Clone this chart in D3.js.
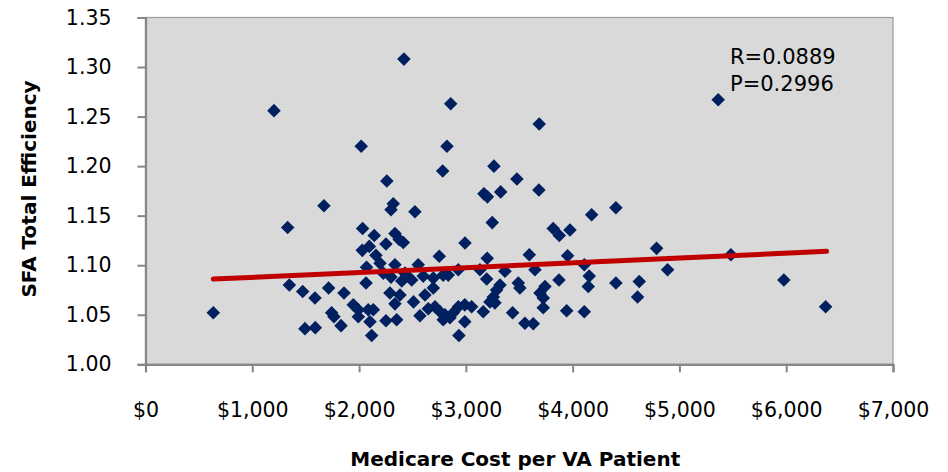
<!DOCTYPE html>
<html><head><meta charset="utf-8">
<script src="https://cdn.jsdelivr.net/npm/d3@7"></script>
<style>body{margin:0;background:#fff}svg{display:block}</style>
</head><body>
<svg id="chart" width="948" height="472"></svg>
<script>
const costs = [635,1203,1331,1347,1472,1493,1587,1590,1671,1715,1743,1765,1831,1859,1946,1993,1993,2020,2030,2033,2065,2070,2096,2102,2118,2133,2086,2142,2158,2196,2227,2252,2252,2260,2289,2299,2299,2320,2336,2336,2336,2352,2376,2383,2400,2414,2420,2430,2446,2510,2493,2523,2554,2570,2601,2617,2648,2695,2695,2711,2751,2758,2783,2788,2788,2804,2823,2835,2851,2858,2882,2935,2929,2930,2990,2990,2992,3054,3132,3163,3169,3195,3200,3202,3226,3247,3257,3263,3272,3288,3320,3326,3366,3438,3478,3491,3506,3553,3594,3631,3647,3684,3687,3694,3725,3725,3741,3818,3875,3872,3944,3953,3975,4109,4109,4146,4155,4178,4405,4405,4608,4624,4786,4889,5363,5482,5978,6369];
const efficiency = [1.052,1.256,1.138,1.080,1.0735,1.036,1.067,1.037,1.160,1.077,1.052,1.048,1.039,1.072,1.060,1.055,1.048,1.220,1.115,1.137,1.082,1.098,1.119,1.043,1.029,1.055,1.055,1.130,1.110,1.102,1.092,1.1215,1.044,1.185,1.072,1.156,1.088,1.162,1.132,1.1005,1.061,1.045,1.126,1.070,1.084,1.123,1.308,1.092,1.089,1.063,1.085,1.154,1.1005,1.049,1.089,1.070,1.056,1.087,1.077,1.058,1.109,1.053,1.195,1.090,1.045,1.050,1.220,1.090,1.047,1.263,1.052,1.029,1.0955,1.058,1.060,1.043,1.1225,1.058,1.0955,1.053,1.172,1.086,1.107,1.169,1.063,1.143,1.068,1.200,1.062,1.075,1.080,1.174,1.094,1.052,1.187,1.082,1.077,1.0415,1.1106,1.041,1.0955,1.176,1.2425,1.072,1.067,1.057,1.0785,1.137,1.130,1.085,1.054,1.1096,1.1356,1.1005,1.053,1.0785,1.089,1.151,1.158,1.082,1.068,1.0836,1.117,1.0955,1.267,1.1106,1.085,1.058];
const trendX = [635, 6378];
const trendY = [1.086, 1.114];
const xTicks = [0,1000,2000,3000,4000,5000,6000,7000];
const yTicks = [1.00,1.05,1.10,1.15,1.20,1.25,1.30,1.35];
const statLabels = ["R=0.0889","P=0.2996"];
const xTitle = "Medicare Cost per VA Patient";
const yTitle = "SFA Total Efficiency";

const svg = d3.select("#chart");
const L = 145.5, R = 893, T = 17.5, B = 364.3;
const x = d3.scaleLinear().domain([0,7000]).range([L,R]);
const y = d3.scaleLinear().domain([1.00,1.35]).range([B,T]);
const font = "'DejaVu Sans', sans-serif";

svg.append("rect").attr("x",L).attr("y",T).attr("width",R-L).attr("height",B-T)
  .attr("fill","#d9d9d9").attr("stroke","#9a9a9a").attr("stroke-width",1.2);

const xAxis = svg.append("g").attr("transform",`translate(0,${B})`)
  .call(d3.axisBottom(x).tickValues(xTicks).tickSize(8).tickPadding(30)
    .tickFormat(d => "$" + d3.format(",")(d)));
const yAxis = svg.append("g").attr("transform",`translate(${L},0)`)
  .call(d3.axisLeft(y).tickValues(yTicks).tickSize(8).tickPadding(26)
    .tickFormat(d3.format(".2f")));
[xAxis,yAxis].forEach(g => {
  g.select(".domain").attr("stroke","#868686").attr("stroke-width",2.2);
  g.selectAll(".tick line").attr("stroke","#868686").attr("stroke-width",2);
  g.selectAll("text").attr("fill","#000").style("font-family",font).style("font-size","20.5px");
});

svg.append("g").selectAll("path").data(costs).join("path")
  .attr("d", d3.symbol().type(d3.symbolSquare).size(92))
  .attr("transform",(d,i)=>`translate(${x(d)},${y(efficiency[i])}) rotate(45)`)
  .attr("fill","#002060");

svg.append("line")
  .attr("x1",x(trendX[0])).attr("y1",y(trendY[0]))
  .attr("x2",x(trendX[1])).attr("y2",y(trendY[1]))
  .attr("stroke","#c00000").attr("stroke-width",5).attr("stroke-linecap","round");

svg.append("g").selectAll("text").data(statLabels).join("text")
  .attr("x",730).attr("y",(d,i)=>64+i*27)
  .style("font-family",font).style("font-size","21px").attr("fill","#000")
  .text(d=>d);

svg.append("text").attr("x",(L+R)/2+(-4)).attr("y",466).attr("text-anchor","middle")
  .style("font-family",font).style("font-size","20px").style("font-weight","bold")
  .text(xTitle);
svg.append("text").attr("transform",`translate(36,${189}) rotate(-90)`).attr("text-anchor","middle")
  .style("font-family",font).style("font-size","20px").style("font-weight","bold")
  .text(yTitle);
</script>
</body></html>
